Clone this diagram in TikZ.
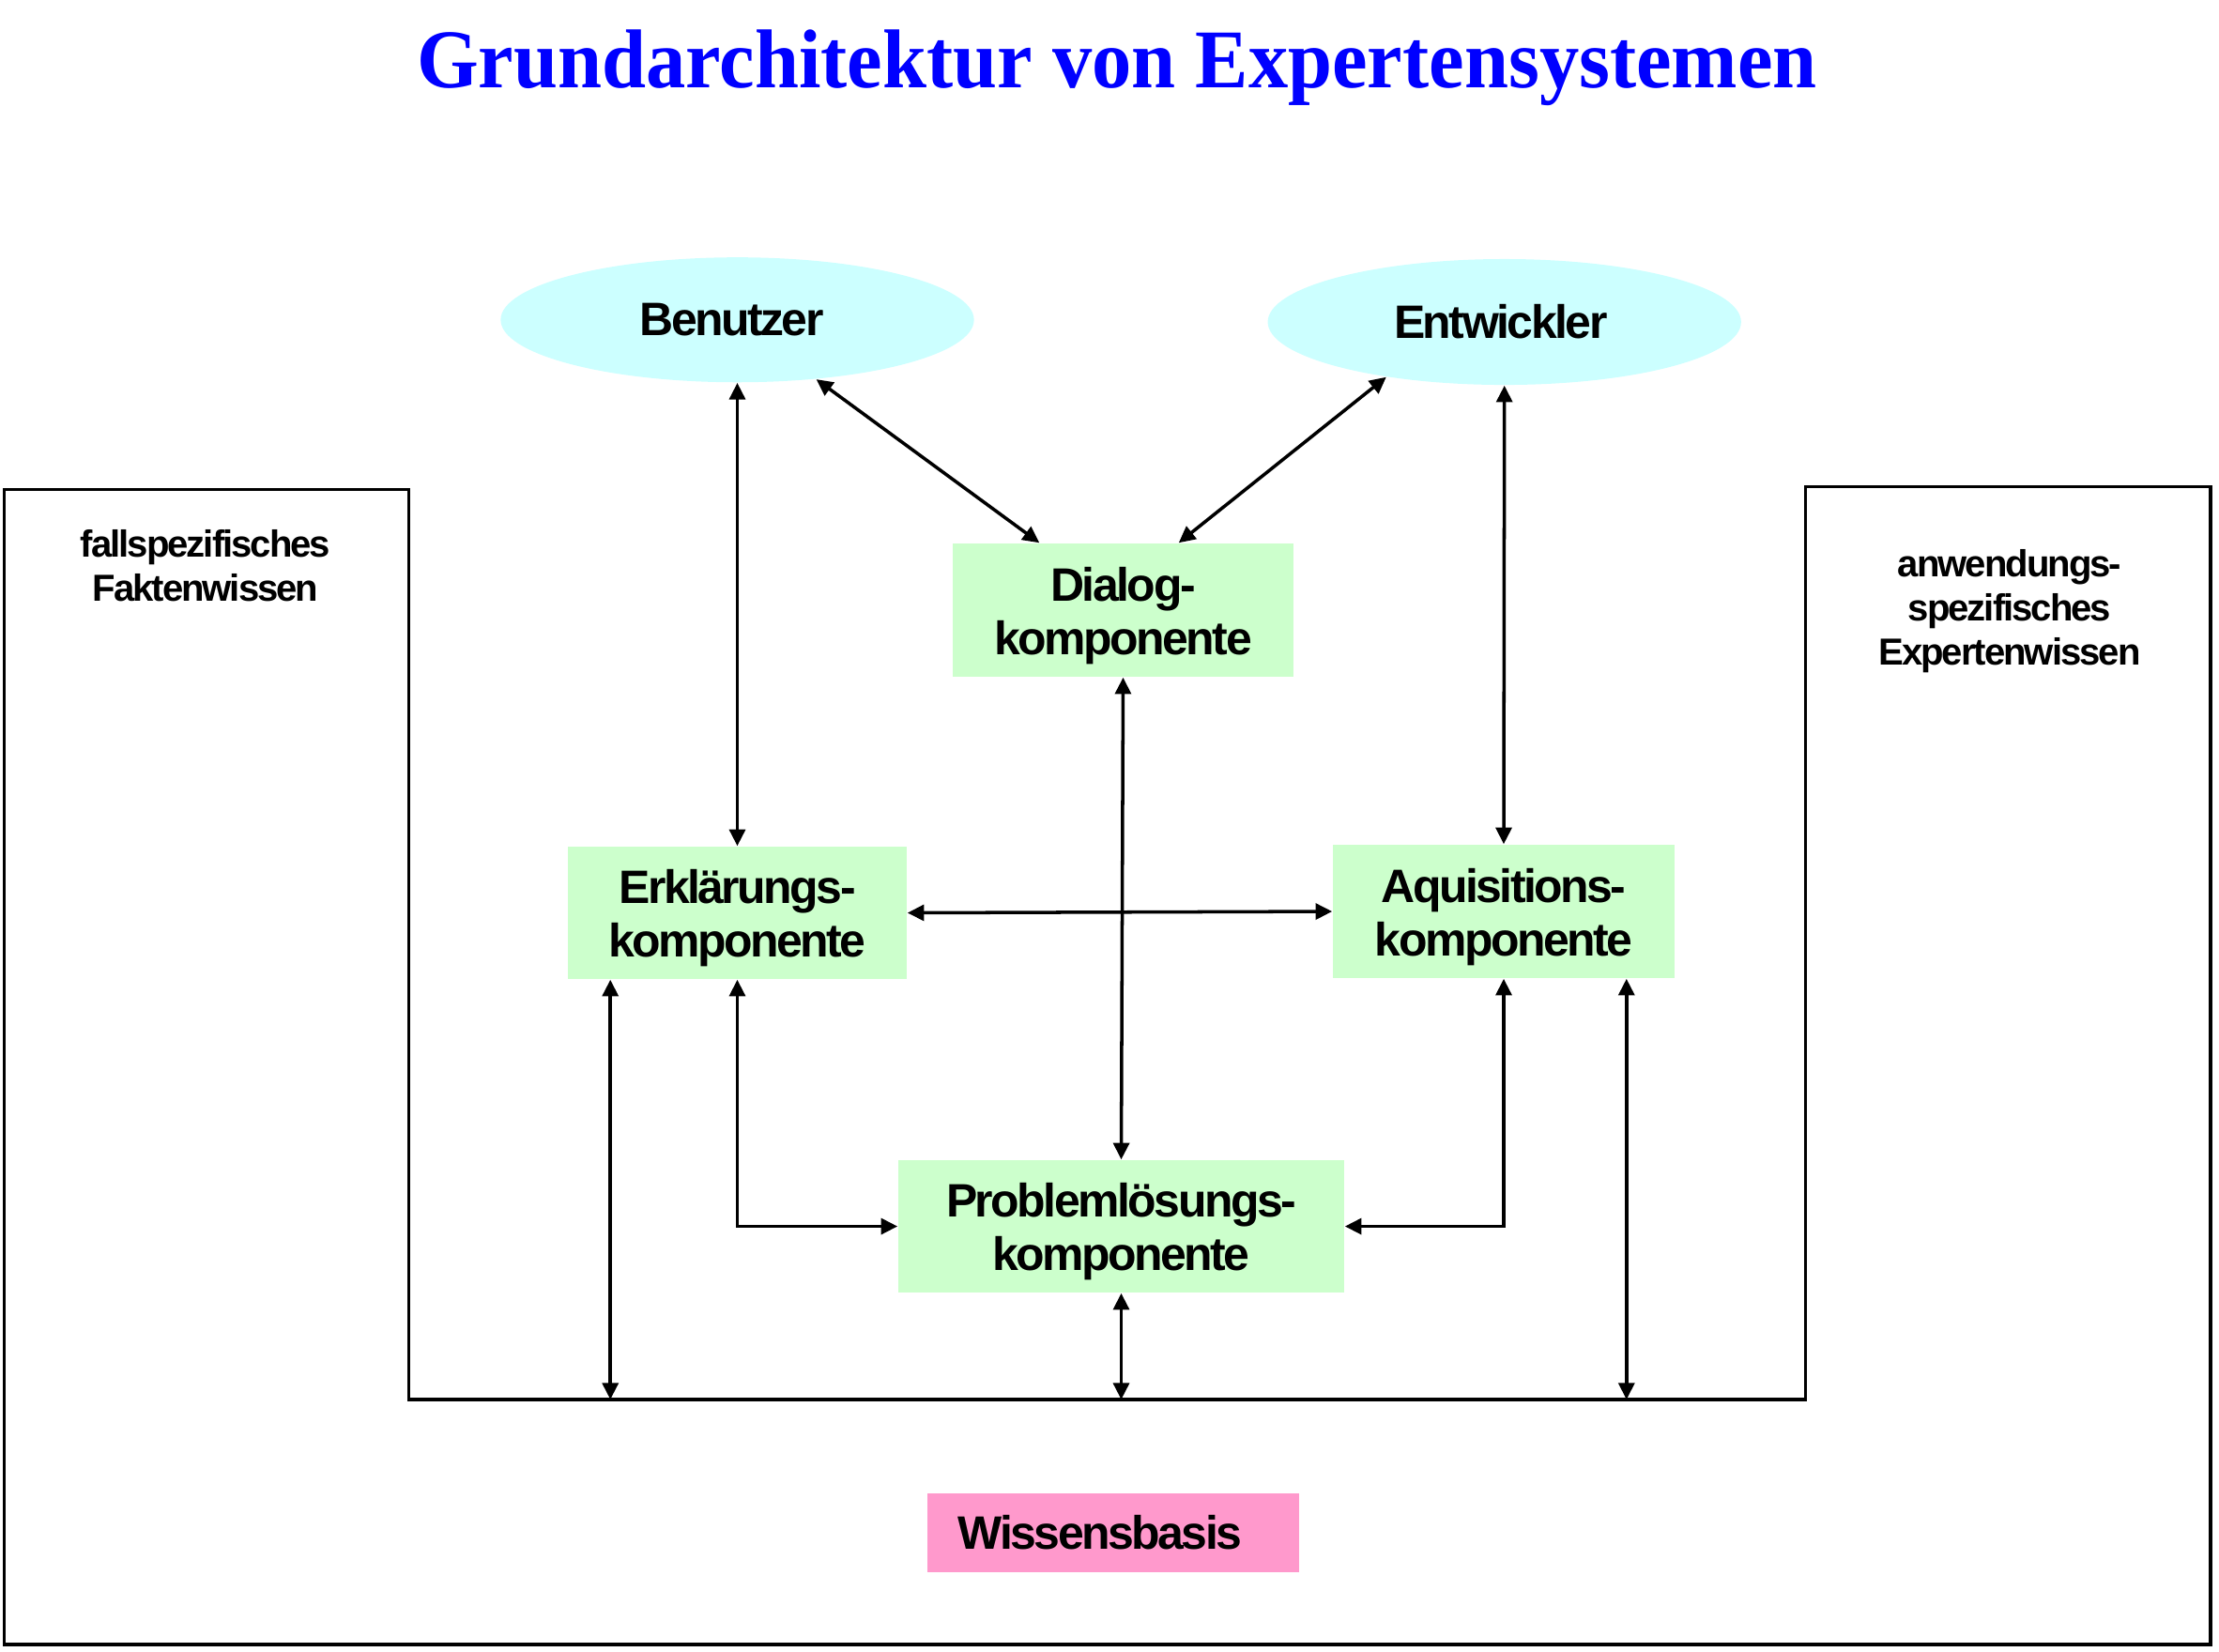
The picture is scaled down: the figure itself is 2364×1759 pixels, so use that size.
\documentclass[tikz,border=0pt]{standalone}
\usepackage{fontspec}
\usepackage{graphicx}
\usetikzlibrary{arrows.meta,shapes.geometric}
\newfontfamily\labfont[LetterSpace=-5]{Liberation Sans}
\newfontfamily\titlefont{Liberation Serif}
\definecolor{userblue}{HTML}{CCFFFF}
\definecolor{compgreen}{HTML}{CCFFCC}
\definecolor{kbpink}{HTML}{FF99CC}
\definecolor{titleblue}{HTML}{0000FF}
\newcommand{\topstrut}{\rule{0pt}{13.6pt}}
\begin{document}
\begin{tikzpicture}[x=0.01cm,y=-0.01cm,
  actor/.style={ellipse, fill=userblue, minimum width=5.04cm, minimum height=1.33cm, inner sep=0pt,
    font=\labfont\bfseries\fontsize{14.2}{16}\selectfont},
  comp/.style={rectangle, fill=compgreen, inner sep=0pt, align=center,
    font=\labfont\bfseries\fontsize{14.2}{16.2}\selectfont},
  side/.style={align=center, inner sep=0pt, font=\labfont\bfseries\fontsize{11.4}{13.4}\selectfont},
  link/.style={line width=1pt, {Triangle[length=5pt,width=4.8pt]}-{Triangle[length=5pt,width=4.8pt]}},
  framed/.style={line width=0.9pt}]
\useasboundingbox (0,0) rectangle (2364,1759);
% title
\node[anchor=base, inner sep=0pt, text=titleblue, font=\titlefont\bfseries\fontsize{25.3}{30}\selectfont] (title) at (1190,93)
  {\scalebox{0.95}[1]{Grundarchitektur von Expertensystemen}};
% frame (knowledge base)
\draw[framed] (4.5,521.7) -- (435.7,521.7) -- (435.7,1491) -- (1923.8,1491) -- (1923.8,518.6)
  -- (2355,518.6) -- (2355,1752) -- (4.5,1752) -- cycle;
\coordinate (kl) at (435.7,1491);
% side labels
\node[side] (fakt) at (219,603) {fallspezifisches\\Faktenwissen};
\node[side] (expw) at (2141,651) {anwendungs-\\spezifisches\\Expertenwissen};
% actors
\node[actor] (ben) at (785.5,340.7) {Benutzer\hspace*{0.12cm}};
\node[actor, minimum height=1.34cm] (ent) at (1602.7,343) {Entwickler\hspace*{0.08cm}};
% components
\node[comp, minimum width=3.63cm, minimum height=1.42cm] (dia) at (1196.5,650) {\topstrut Dialog-\\komponente};
\node[comp, minimum width=3.61cm, minimum height=1.41cm] (erk) at (785.5,972.5) {\topstrut Erklärungs-\\komponente};
\node[comp, minimum width=3.64cm, minimum height=1.42cm] (aqu) at (1602,971) {\topstrut Aquisitions-\\komponente};
\node[comp, minimum width=4.75cm, minimum height=1.41cm] (prob) at (1194.5,1306.5) {\topstrut Problemlösungs-\\komponente};
\node[rectangle, fill=kbpink, minimum width=3.96cm, minimum height=0.84cm, text width=3.30cm,
  inner xsep=0.33cm, inner ysep=0pt, align=left, font=\labfont\bfseries\fontsize{14.2}{16}\selectfont]
  (kb) at (1186,1633) {Wissensbasis};
% connectors
\coordinate (e1) at ([xshift=0.46cm]erk.south west);
\coordinate (a1) at ([xshift=-0.52cm]aqu.south east);
\draw[link] (ben.south) -- (erk.north);
\draw[link] (ben.-37) -- ([xshift=0.93cm]dia.north west);
\draw[link] (ent.205) -- ([xshift=-1.23cm]dia.north east);
\draw[link] (ent.south) -- (aqu.north);
\draw[link] (dia.south) -- (prob.north);
\draw[link] (erk.east) -- (aqu.west);
\draw[link] (erk.south) |- (prob.west);
\draw[link] (aqu.south) |- (prob.east);
\draw[link] (e1) -- (e1 |- kl);
\draw[link] (prob.south) -- (prob.south |- kl);
\draw[link] (a1) -- (a1 |- kl);
\end{tikzpicture}
\end{document}
